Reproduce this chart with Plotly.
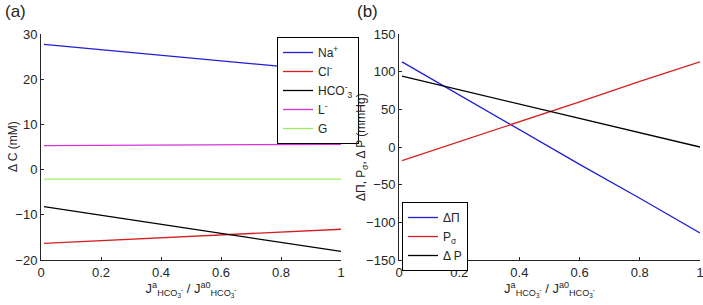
import plotly.graph_objects as go

# ---- data ----
x_vals = [0.01, 0.2, 0.4, 0.6, 0.8, 1.0]

na_vals = [27.7, 26.5, 25.3, 24.1, 22.8, 21.6]
cl_vals = [-16.3, -15.7, -15.0, -14.4, -13.8, -13.2]
hco3_vals = [-8.2, -10.1, -12.1, -14.1, -16.1, -18.1]
l_vals = [5.3, 5.35, 5.4, 5.45, 5.5, 5.6]
g_vals = [-2.1, -2.1, -2.1, -2.1, -2.1, -2.1]

dpi_vals = [113, 69, 23, -23, -68, -114]
psig_vals = [-18, 7, 34, 60, 87, 113]
dp_vals = [94, 76, 57, 38, 19, 0]

xticks = [0, 0.2, 0.4, 0.6, 0.8, 1]
xtick_labels = ["0", "0.2", "0.4", "0.6", "0.8", "1"]
yticks_a = [-20, -10, 0, 10, 20, 30]
yticks_b = [-150, -100, -50, 0, 50, 100, 150]

W, H = 703, 305
FONT = "Liberation Sans, Arial, sans-serif"
TXT = "#262626"

fig = go.Figure()

series_a = [
    ("Na<sup>+</sup>", na_vals, "#1f1fd6"),
    ("Cl<sup>-</sup>", cl_vals, "#d62020"),
    ("HCO<sup>-</sup><sub>3</sub>", hco3_vals, "#000000"),
    ("L<sup>-</sup>", l_vals, "#d633d6"),
    ("G", g_vals, "#99ee66"),
]
for name, ys, c in series_a:
    fig.add_trace(go.Scatter(x=x_vals, y=ys, mode="lines", name=name,
                             line=dict(color=c, width=1.3),
                             xaxis="x", yaxis="y", legend="legend"))

series_b = [
    ("ΔΠ", dpi_vals, "#1f1fd6"),
    ("P<sub>σ</sub>", psig_vals, "#d62020"),
    ("Δ P", dp_vals, "#000000"),
]
for name, ys, c in series_b:
    fig.add_trace(go.Scatter(x=x_vals, y=ys, mode="lines", name=name,
                             line=dict(color=c, width=1.3),
                             xaxis="x2", yaxis="y2", legend="legend2"))

def px(v):
    return v / W

def py(v):
    return (H - v) / H

xtitle = "J<sup>a</sup><sub>HCO<sub>3</sub><sup>-</sup></sub> / J<sup>a0</sup><sub>HCO<sub>3</sub><sup>-</sup></sub>"

common_axis = dict(showline=True, linecolor="#262626", linewidth=1, ticks="inside",
                   ticklen=3, tickcolor="#262626", showgrid=False, zeroline=False,
                   automargin=False, ticklabeloverflow="allow",
                   tickfont=dict(family=FONT, size=13, color=TXT))

fig.update_layout(
    width=W, height=H,
    margin=dict(l=0, r=0, t=0, b=0),
    paper_bgcolor="white", plot_bgcolor="white",
    font=dict(family=FONT, size=12, color=TXT),
    xaxis=dict(domain=[px(41), px(341)], range=[0, 1], tickvals=xticks, ticktext=xtick_labels,
               anchor="y", title=dict(text=xtitle, font=dict(size=13), standoff=2), **common_axis),
    yaxis=dict(domain=[py(260), py(34)], range=[-20, 30], tickvals=yticks_a,
               anchor="x", **common_axis),
    xaxis2=dict(domain=[px(399), px(700)], range=[0, 1], tickvals=xticks, ticktext=xtick_labels,
                anchor="y2", title=dict(text=xtitle, font=dict(size=13), standoff=2), **common_axis),
    yaxis2=dict(domain=[py(260), py(34)], range=[-150, 150], tickvals=yticks_b,
                anchor="x2", **common_axis),
    legend=dict(x=px(277), y=py(37), xanchor="left", yanchor="top",
                bgcolor="white", bordercolor="#000000", borderwidth=1,
                font=dict(family=FONT, size=12, color=TXT), tracegroupgap=0,
                itemwidth=30),
    legend2=dict(x=px(402), y=py(202), xanchor="left", yanchor="top",
                 bgcolor="white", bordercolor="#000000", borderwidth=1,
                 font=dict(family=FONT, size=12, color=TXT), tracegroupgap=0,
                 itemwidth=30),
    annotations=[
        dict(text="(a)", x=px(3), y=py(12), xref="paper", yref="paper", showarrow=False,
             xanchor="left", yanchor="middle", font=dict(family=FONT, size=17, color=TXT)),
        dict(text="(b)", x=px(355), y=py(12), xref="paper", yref="paper", showarrow=False,
             xanchor="left", yanchor="middle", font=dict(family=FONT, size=17, color=TXT)),
        dict(text="Δ C (mM)", x=px(13), y=py(147), xref="paper", yref="paper", showarrow=False,
             textangle=-90, xanchor="center", yanchor="middle",
             font=dict(family=FONT, size=12, color=TXT)),
        dict(text="ΔΠ, P<sub>σ</sub>, Δ P (mmHg)", x=px(362), y=py(147), xref="paper", yref="paper",
             showarrow=False, textangle=-90, xanchor="center", yanchor="middle",
             font=dict(family=FONT, size=12, color=TXT)),
    ],
)

fig.write_html("out.html",
               config={"displayModeBar": False},
               post_script="document.body.style.margin='0px';document.body.style.overflow='hidden';")
